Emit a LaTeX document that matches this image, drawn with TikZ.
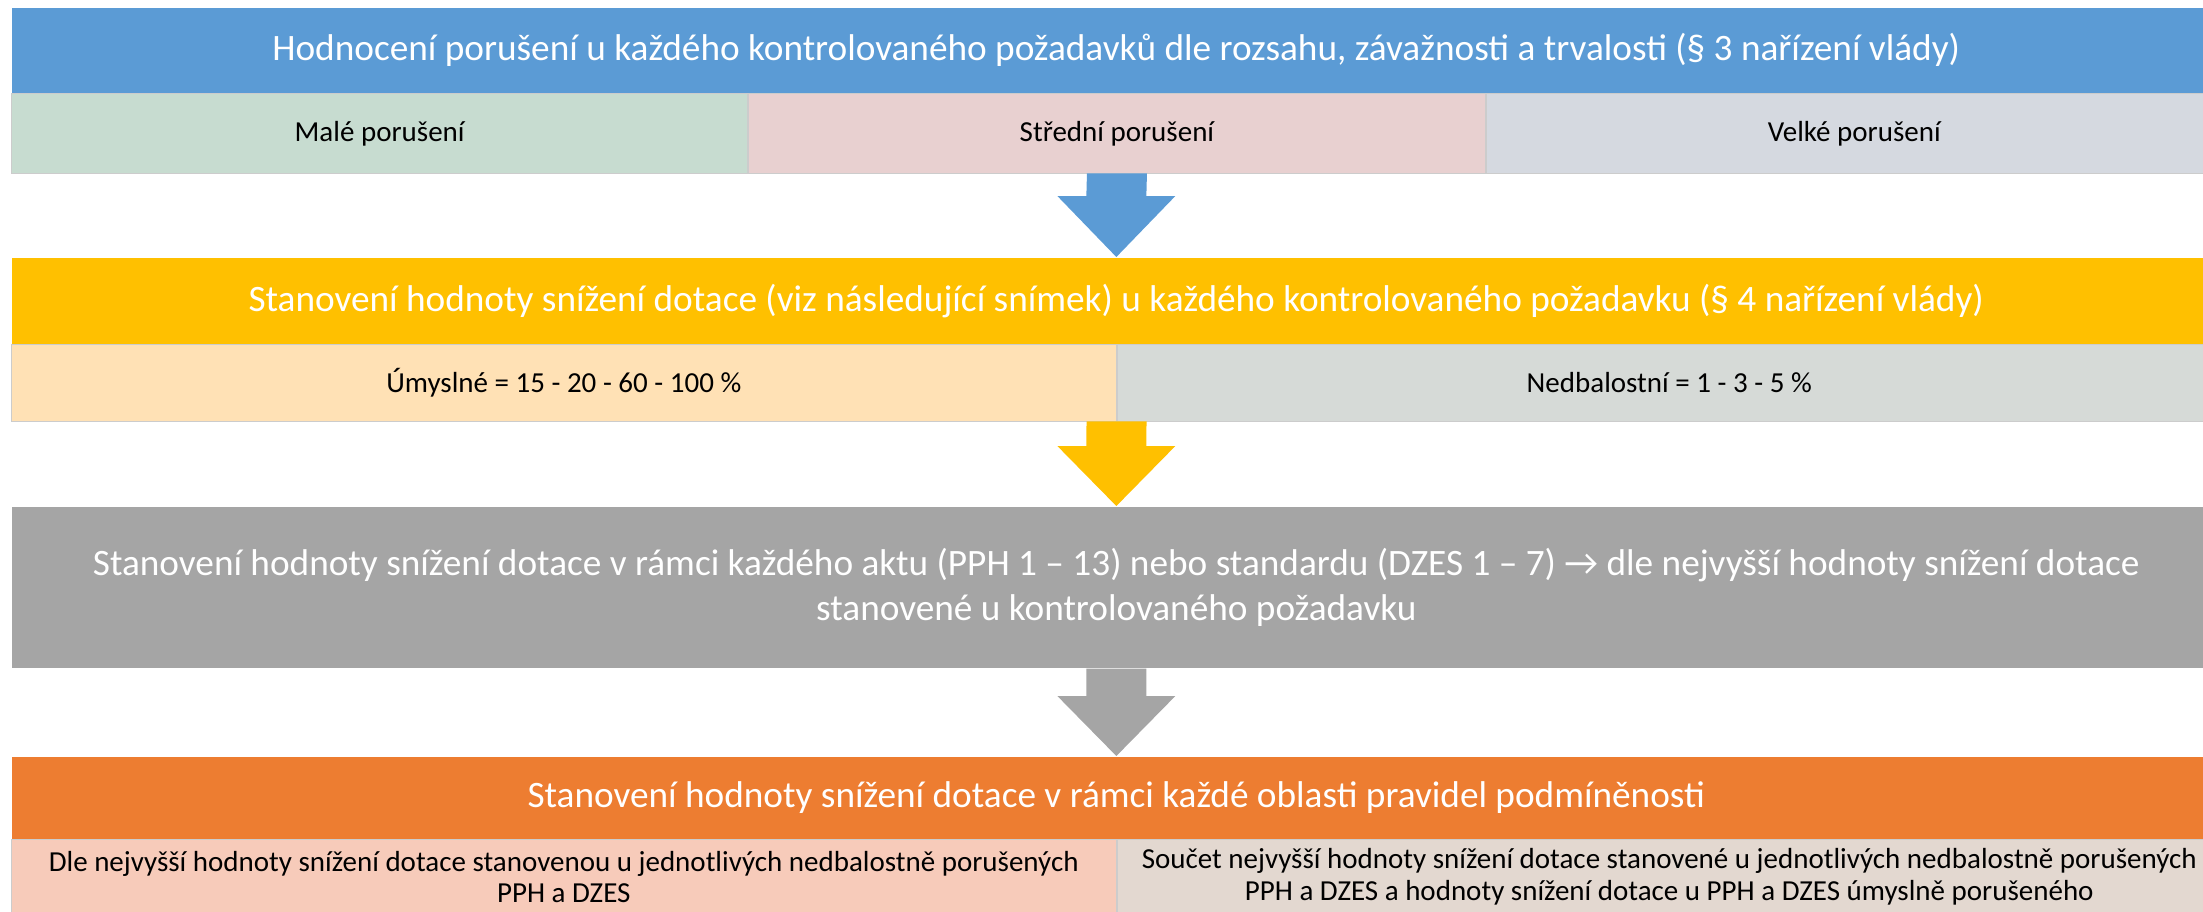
\documentclass[tikz,border=0pt]{standalone}
\usepackage{fontspec}
\setmainfont{Carlito}
\usetikzlibrary{positioning,calc}
\definecolor{hdrblue}{HTML}{5B9BD5}
\definecolor{hdryellow}{HTML}{FFC000}
\definecolor{hdrgray}{HTML}{A5A5A5}
\definecolor{hdrorange}{HTML}{ED7D31}
\definecolor{malecol}{HTML}{C7DCD0}
\definecolor{strednicol}{HTML}{E8D0D0}
\definecolor{velkecol}{HTML}{D5D9E0}
\definecolor{umyslcol}{HTML}{FFE1B5}
\definecolor{nedbalcol}{HTML}{D6DAD7}
\definecolor{dlecol}{HTML}{F7CBBA}
\definecolor{soucetcol}{HTML}{E3D8D0}

\begin{document}
\begin{tikzpicture}[x=0.01cm, y=-0.01cm,
    hdr/.style={anchor=north west, inner sep=0pt, minimum width=22.08cm, text=white, align=center, font=\fontsize{10.6}{12.8}\selectfont},
    cell/.style={inner sep=0pt, draw=white!80!black, line width=0.25pt, align=center, font=\fontsize{8.25}{9}\selectfont}]
    \clip (0,0) rectangle (2203,911);

    % pruhy
    \node[hdr, fill=hdrblue, minimum height=0.85cm] (hdrA) at (11,7) {Hodnocení porušení u každého kontrolovaného požadavků dle rozsahu, závažnosti a trvalosti (§ 3 nařízení vlády)};
    \node[cell, fill=malecol, minimum width=7.36cm, minimum height=0.79cm, below right=0pt and 0pt of hdrA.south west] (rowA1) {Malé porušení};
    \node[cell, fill=strednicol, minimum width=7.36cm, minimum height=0.79cm, right=0pt of rowA1] (rowA2) {Střední porušení};
    \node[cell, fill=velkecol, minimum width=7.36cm, minimum height=0.79cm, right=0pt of rowA2] (rowA3) {Velké porušení};

    \node[hdr, fill=hdryellow, minimum height=0.86cm] (hdrB) at (11,257) {Stanovení hodnoty snížení dotace (viz následující snímek) u každého kontrolovaného požadavku (§ 4 nařízení vlády)};
    \node[cell, fill=umyslcol, minimum width=11.04cm, minimum height=0.76cm, below right=0pt and 0pt of hdrB.south west] (rowB1) {Úmyslné = 15 - 20 - 60 - 100 \%};
    \node[cell, fill=nedbalcol, minimum width=11.04cm, minimum height=0.76cm, right=0pt of rowB1] (rowB2) {Nedbalostní = 1 - 3 - 5 \%};

    \node[hdr, fill=hdrgray, minimum height=1.61cm] (hdrC) at (11,506) {Stanovení hodnoty snížení dotace v rámci každého aktu (PPH 1 – 13) nebo standardu (DZES 1 – 7) → dle nejvyšší hodnoty snížení dotace\\stanovené u kontrolovaného požadavku};

    \node[hdr, fill=hdrorange, minimum height=0.82cm] (hdrD) at (11,756) {Stanovení hodnoty snížení dotace v rámci každé oblasti pravidel podmíněnosti};
    \node[cell, fill=dlecol, minimum width=11.04cm, minimum height=0.74cm, below right=0pt and 0pt of hdrD.south west] (rowD1) {Dle nejvyšší hodnoty snížení dotace stanovenou u jednotlivých nedbalostně porušených\\PPH a DZES};
    \node[cell, fill=soucetcol, minimum width=11.04cm, minimum height=0.74cm, right=0pt of rowD1] (rowD2) {Součet nejvyšší hodnoty snížení dotace stanovené u jednotlivých nedbalostně porušených\\PPH a DZES a hodnoty snížení dotace u PPH a DZES úmyslně porušeného};

    % sipky
    \fill[hdrblue] ($(rowA2.south)+(-30,0)$) -- ($(rowA2.south)+(30,0)$) -- ($(hdrB.north)+(30,-61)$) -- ($(hdrB.north)+(59,-61)$) -- (hdrB.north) -- ($(hdrB.north)+(-59,-61)$) -- ($(hdrB.north)+(-30,-61)$) -- cycle;
    \fill[hdryellow] ($(rowB1.south east)+(-30,0)$) -- ($(rowB1.south east)+(30,0)$) -- ($(hdrC.north)+(30,-60)$) -- ($(hdrC.north)+(59,-60)$) -- (hdrC.north) -- ($(hdrC.north)+(-59,-60)$) -- ($(hdrC.north)+(-30,-60)$) -- cycle;
    \fill[hdrgray] ($(hdrC.south)+(-30,0)$) -- ($(hdrC.south)+(30,0)$) -- ($(hdrD.north)+(30,-60)$) -- ($(hdrD.north)+(59,-60)$) -- (hdrD.north) -- ($(hdrD.north)+(-59,-60)$) -- ($(hdrD.north)+(-30,-60)$) -- cycle;
\end{tikzpicture}
\end{document}
